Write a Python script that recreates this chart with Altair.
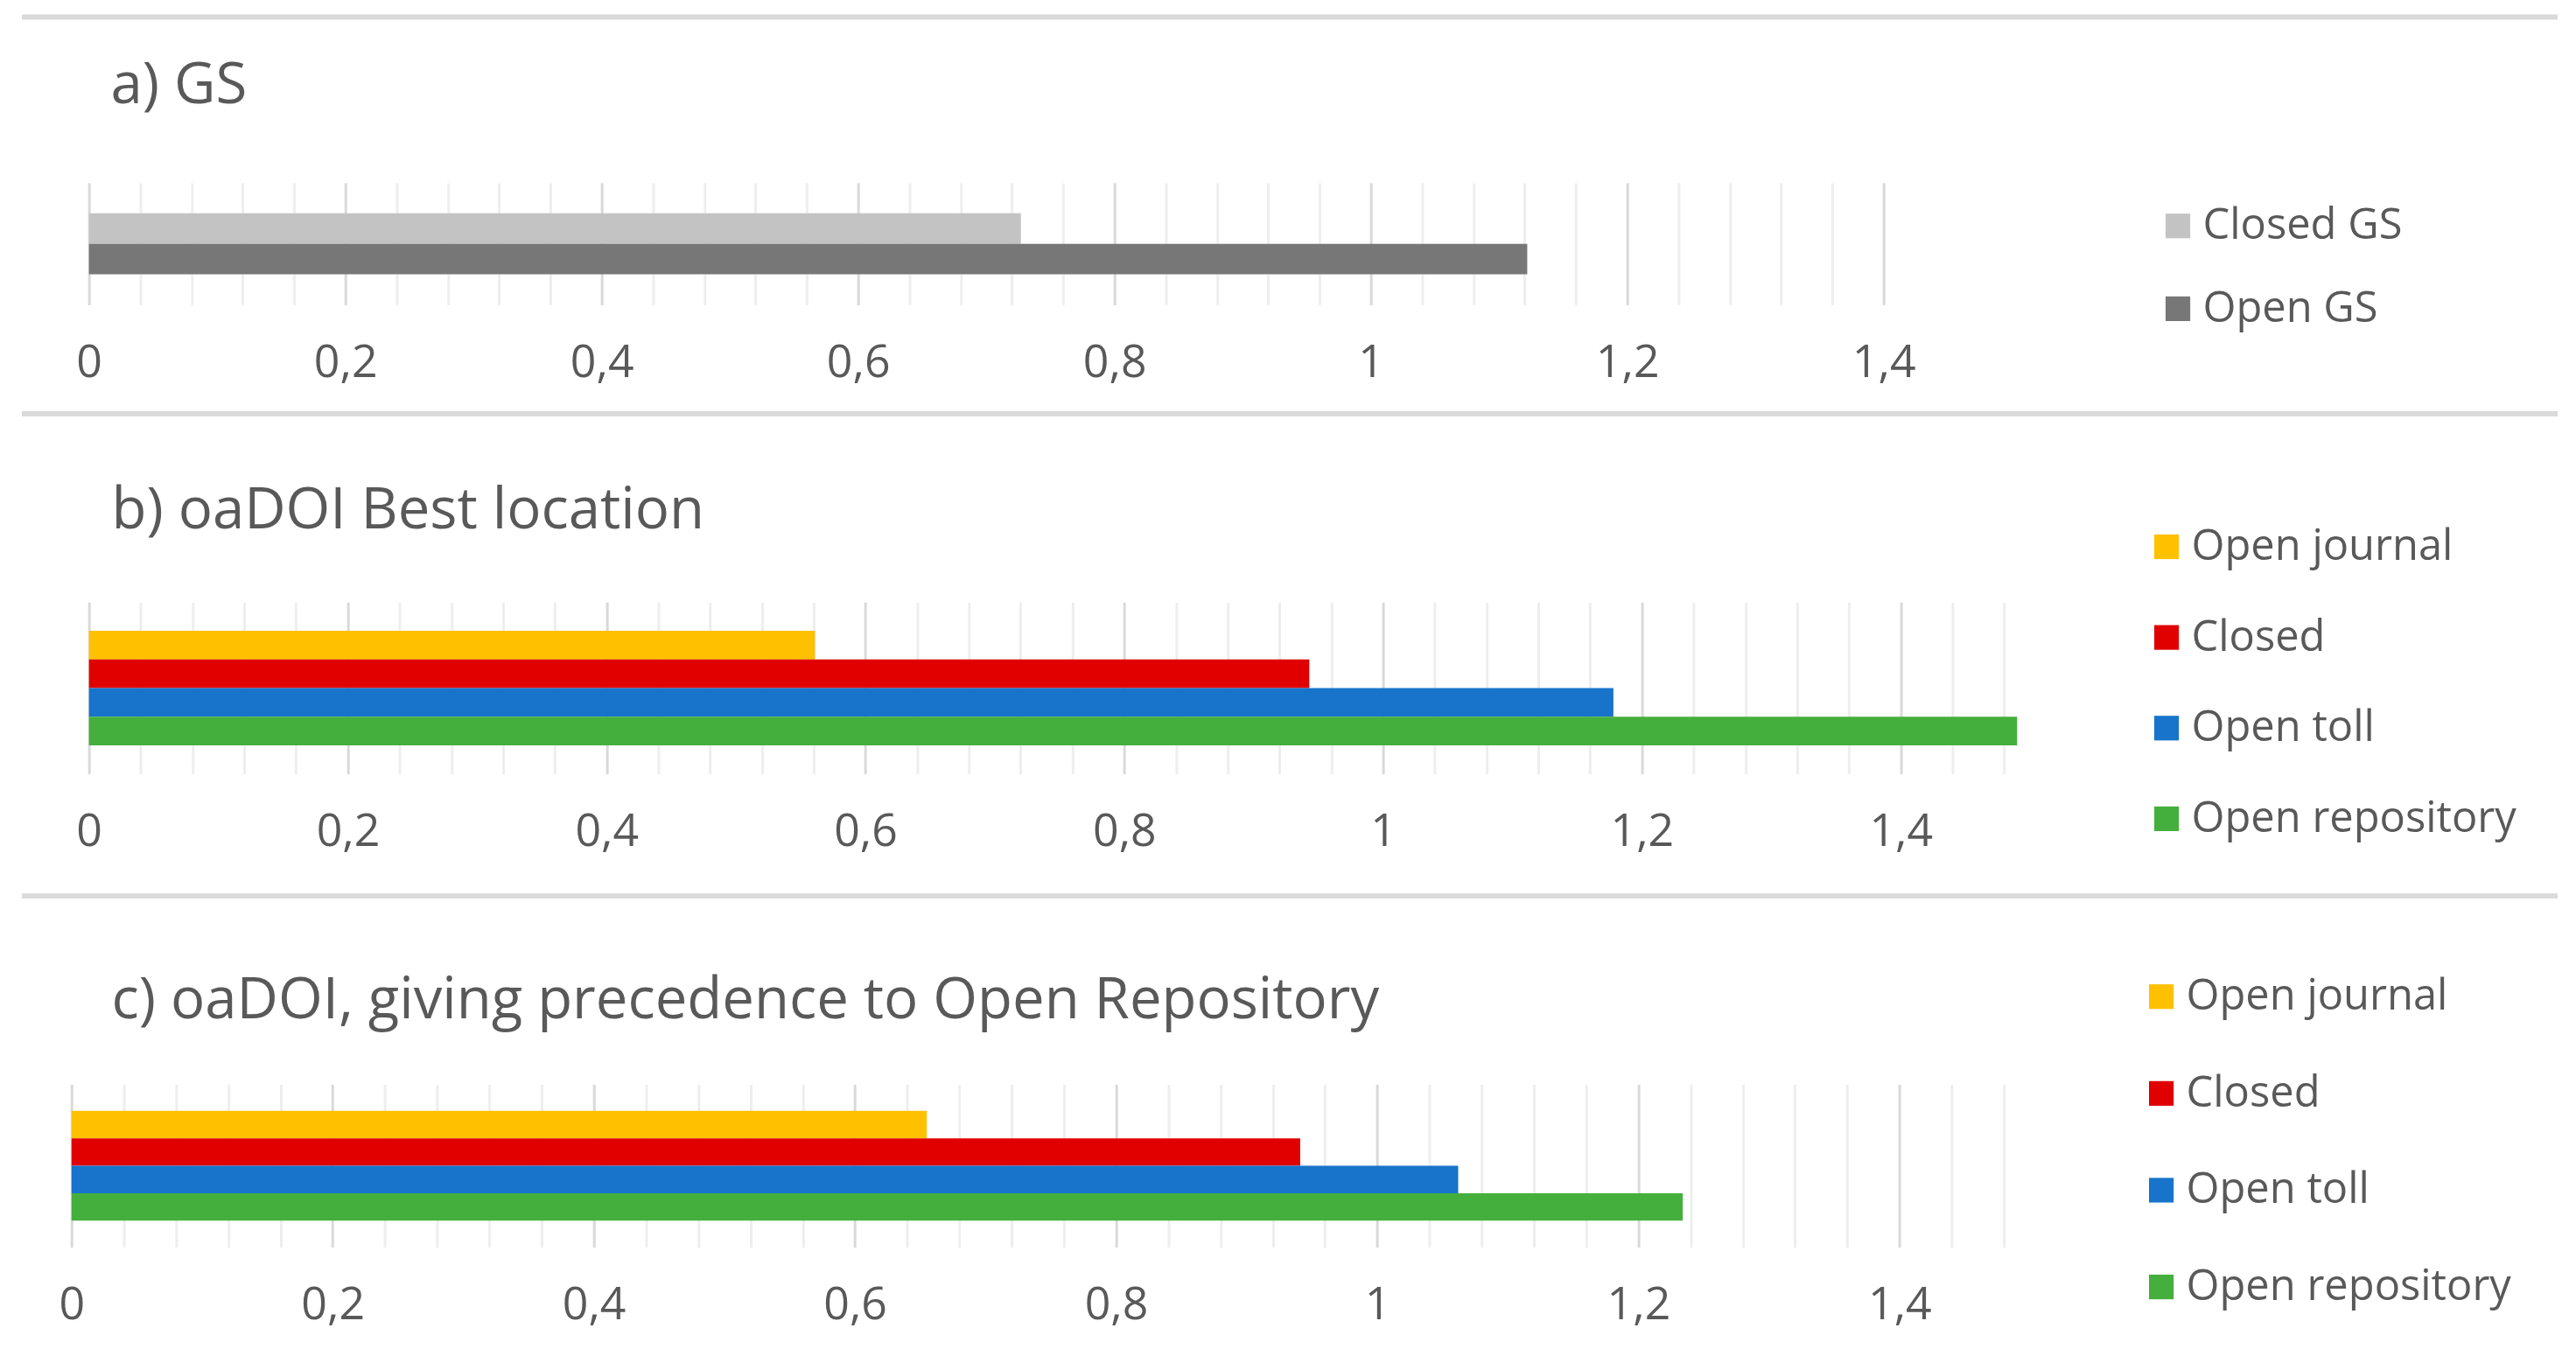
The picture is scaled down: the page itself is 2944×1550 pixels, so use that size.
import altair as alt
import pandas as pd

# ---- data ----
gs_series = ["Closed GS", "Open GS"]
gs_values = [0.727, 1.122]
gs_colors = ["#C3C3C3", "#777777"]

oa_series = ["Open journal", "Closed", "Open toll", "Open repository"]
best_values = [0.561, 0.943, 1.178, 1.49]
prec_values = [0.655, 0.941, 1.062, 1.234]
oa_colors = ["#FFC000", "#E00000", "#1874CA", "#44AF3D"]

major_ticks = [0, 0.2, 0.4, 0.6, 0.8, 1, 1.2, 1.4]
titles = ["a) GS", "b) oaDOI Best location",
          "c) oaDOI, giving precedence to Open Repository"]

TEXT = "#595959"
FONT = "Open Sans"
MINOR_STEP = 0.04


def minor_ticks(maxv):
    n = int(round(maxv / MINOR_STEP))
    return [round(i * MINOR_STEP, 2) for i in range(n + 1)]


IS_MAJOR = "abs(datum.value*5 - round(datum.value*5)) < 0.001"


def x_axis(vals):
    return alt.Axis(
        values=vals, grid=True,
        gridColor={"condition": {"test": IS_MAJOR, "value": "#D9D9D9"}, "value": "#EEEEEE"},
        gridWidth=3, ticks=False, tickSize=0, domain=False,
        labelExpr=f"({IS_MAJOR}) ? replace(format(datum.value, '.1~f'), '.', ',') : ''",
        labelFont=FONT, labelFontSize=52, labelColor=TEXT, labelPadding=66,
        labelBaseline="middle", labelOverlap=False, labelFlush=False, title=None)


def panel(field, series, values, colors, title, dom, width, height, pad_outer,
          leg_x, leg_y, row_pad, title_dx, title_offset, grid_max):
    df = pd.DataFrame({field: series, "value": values})
    return alt.Chart(df).mark_bar().encode(
        x=alt.X("value:Q", scale=alt.Scale(domain=dom, nice=False, zero=False),
                axis=x_axis(minor_ticks(grid_max))),
        y=alt.Y(f"{field}:N", sort=series,
                scale=alt.Scale(paddingInner=0, paddingOuter=pad_outer), axis=None),
        color=alt.Color(f"{field}:N", sort=series,
                        scale=alt.Scale(domain=series, range=colors),
                        legend=alt.Legend(orient="none", legendX=leg_x, legendY=leg_y,
                                          title=None, symbolType="square", symbolSize=800,
                                          symbolStrokeWidth=0, labelFont=FONT,
                                          labelFontSize=49, labelColor=TEXT, labelLimit=0,
                                          rowPadding=row_pad, labelOffset=4, padding=0,
                                          direction="vertical")),
    ).properties(
        width=width, height=height,
        title=alt.TitleParams(text=title, anchor="start", frame="group", dx=title_dx,
                              offset=title_offset, baseline="alphabetic", font=FONT,
                              fontSize=65.5, fontWeight="normal", color=TEXT))


def separator(height, y):
    return alt.Chart(pd.DataFrame({"k": [0]})).mark_rule(
        color="#DADADA", strokeWidth=6).encode(
        x=alt.value(-57), x2=alt.value(2851), y=alt.value(y)
    ).properties(width=2246, height=height)


pa = panel("gs", gs_series, gs_values, gs_colors, titles[0],
           [-20 / 1470, 1.4], 2078, 140, 1.0, 2391, 25, 45, 45, 26, 1.4)
pb = panel("best", oa_series, best_values, oa_colors, titles[1],
           [-20 / 1484, 1.5], 2246, 197, 1.0, 2378, -88, 54, 46, -69, 1.48)
pc = panel("prec", oa_series, prec_values, oa_colors, titles[2],
           [0, 1.5], 2246, 187, 0.97, 2372, -125, 61, 46, -115, 1.48)

chart = alt.vconcat(
    separator(199, 9), pa, separator(341, 125), pb, separator(356, 140), pc,
    spacing=0, bounds="flush"
).resolve_scale(
    x="independent", y="independent", color="independent"
).resolve_legend(color="independent").properties(
    padding={"left": 14, "top": 0, "right": 10, "bottom": 10}
).configure_view(stroke=None)

chart.save("out.html", embed_options={"renderer": "svg", "actions": False})
